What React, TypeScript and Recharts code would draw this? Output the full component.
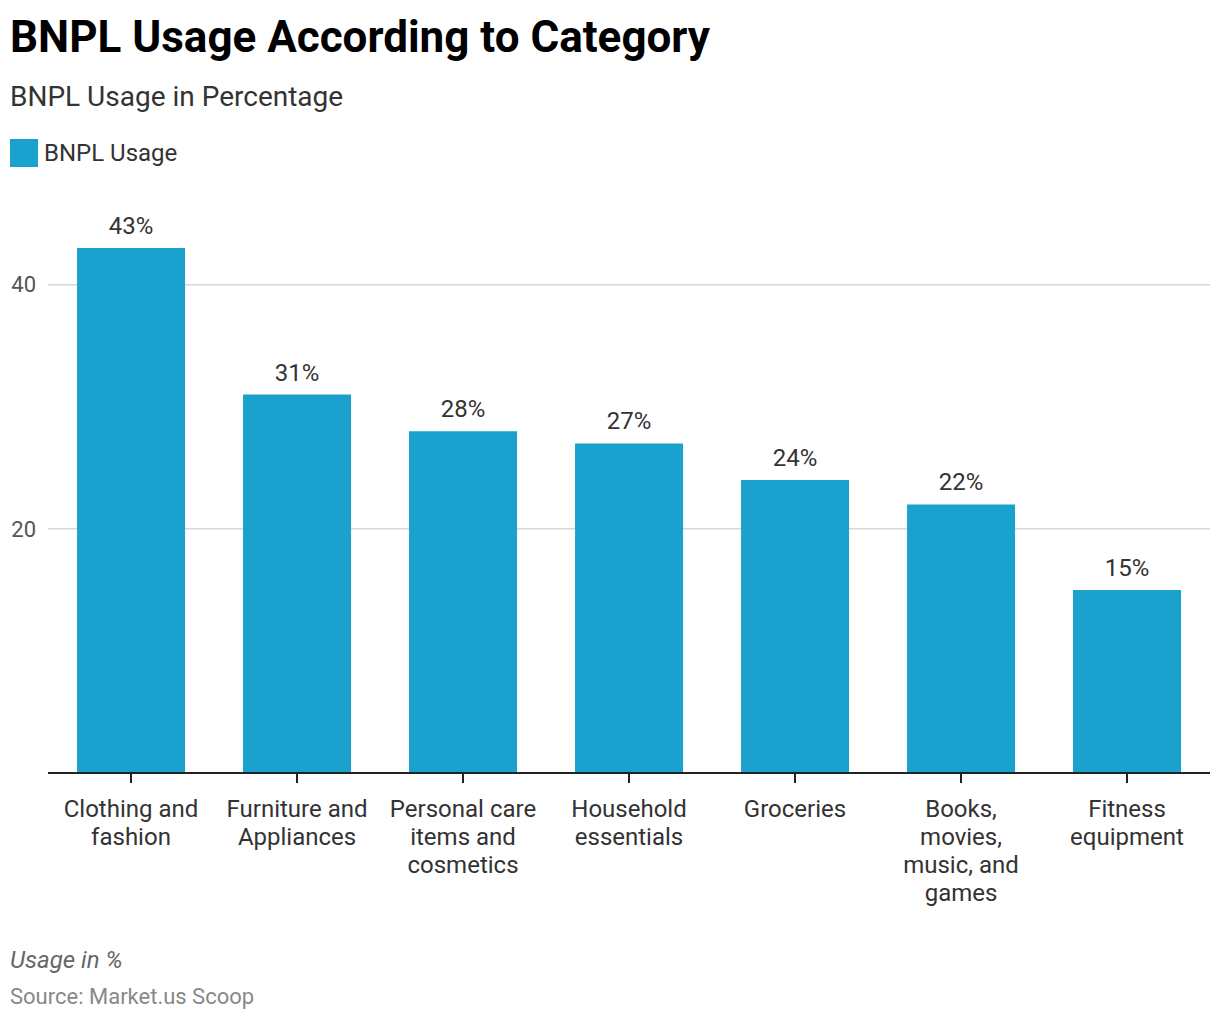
import { BarChart, Bar, XAxis, YAxis, CartesianGrid, LabelList } from 'recharts'

const categories = [
  'Clothing and fashion',
  'Furniture and Appliances',
  'Personal care items and cosmetics',
  'Household essentials',
  'Groceries',
  'Books, movies, music, and games',
  'Fitness equipment',
]

// how each category label is broken into lines under the axis
const tickLines = [
  ['Clothing and', 'fashion'],
  ['Furniture and', 'Appliances'],
  ['Personal care', 'items and', 'cosmetics'],
  ['Household', 'essentials'],
  ['Groceries'],
  ['Books,', 'movies,', 'music, and', 'games'],
  ['Fitness', 'equipment'],
]

const usage = [43, 31, 28, 27, 24, 22, 15]

const yTicks = [20, 40]

const data = categories.map((name, i) => ({ name, usage: usage[i] }))

const font = 'Roboto, "Noto Sans", sans-serif'

function CategoryTick(props: any) {
  const { x, y, index } = props
  const lines = tickLines[index] || []
  return (
    <g transform={`translate(${x},${y})`}>
      <text textAnchor="middle" fill="#333" fontSize={24} fontFamily={font}>
        {lines.map((line, i) => (
          <tspan key={i} x={0} dy={i === 0 ? 32 : 28}>{line}</tspan>
        ))}
      </text>
    </g>
  )
}

export default function App() {
  return (
    <div style={{ position: 'absolute', top: 0, left: 0, width: 1220, height: 1020, background: '#fff', fontFamily: font }}>
      <div style={{ position: 'absolute', left: 10, top: 11, fontSize: 44, fontWeight: 700, color: '#000', lineHeight: '52px' }}>
        BNPL Usage According to Category
      </div>
      <div style={{ position: 'absolute', left: 10, top: 80, fontSize: 28, color: '#333', lineHeight: '34px' }}>
        BNPL Usage in Percentage
      </div>
      <div style={{ position: 'absolute', left: 10, top: 139, display: 'flex', alignItems: 'center' }}>
        <div style={{ width: 28, height: 28, background: '#1aa1cd' }} />
        <span style={{ marginLeft: 6, fontSize: 24, color: '#333', lineHeight: '28px' }}>BNPL Usage</span>
      </div>

      <div style={{ position: 'absolute', left: 0, top: 180 }}>
        <BarChart
          width={1220}
          height={743}
          data={data}
          margin={{ top: 7, right: 10, bottom: 0, left: 0 }}
          barCategoryGap="17.5%"
        >
          <CartesianGrid vertical={false} horizontalValues={yTicks} stroke="#d6d6d6" strokeWidth={1.5} />
          <YAxis
            domain={[0, 48]}
            ticks={yTicks}
            width={48}
            axisLine={false}
            tickLine={false}
            tickSize={0}
            tickMargin={12}
            tick={{ fontSize: 22, fill: '#555', fontFamily: font }}
          />
          <XAxis
            dataKey="name"
            interval={0}
            height={150}
            axisLine={{ stroke: '#222', strokeWidth: 2 }}
            tickLine={{ stroke: '#222', strokeWidth: 2 }}
            tickSize={10}
            tick={<CategoryTick />}
          />
          <Bar dataKey="usage" fill="#1aa1cd" isAnimationActive={false}>
            <LabelList
              dataKey="usage"
              position="top"
              offset={14}
              formatter={(v: any) => `${v}%`}
              style={{ fontSize: 24, fill: '#333', fontFamily: font }}
            />
          </Bar>
        </BarChart>
      </div>

      <div style={{ position: 'absolute', left: 10, top: 945, fontSize: 24, fontStyle: 'italic', color: '#666', lineHeight: '30px' }}>
        Usage in %
      </div>
      <div style={{ position: 'absolute', left: 10, top: 982, fontSize: 22, color: '#888', lineHeight: '30px' }}>
        Source: Market.us Scoop
      </div>
    </div>
  )
}
